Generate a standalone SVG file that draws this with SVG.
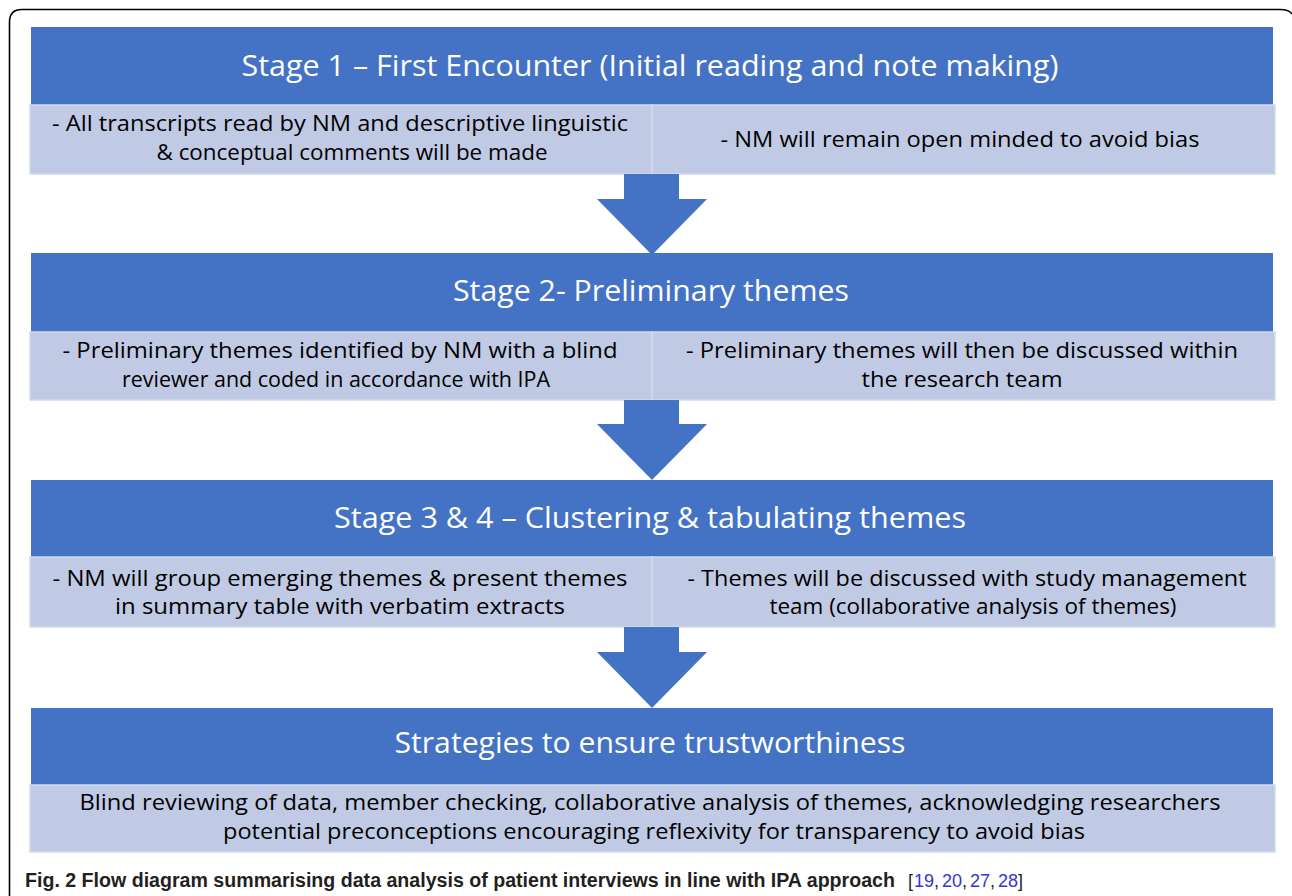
<svg xmlns="http://www.w3.org/2000/svg" width="1292" height="896" viewBox="0 0 1292 896">
<style>
.hdr{fill:#4472C4;}
.sub{fill:#C0CAE5;stroke:#D3DAEE;stroke-width:1.5;}
.arr{fill:#4472C4;}
.ht{font-family:"Open Sans","Liberation Sans",sans-serif;font-size:30px;fill:#FFFFFF;text-anchor:middle;}
.st{font-family:"Open Sans","Liberation Sans",sans-serif;font-size:22px;fill:#000000;text-anchor:middle;}
.cap{font-family:"Liberation Sans",Arial,sans-serif;font-size:19.6px;font-weight:bold;fill:#231F20;}
.ref{font-family:"Liberation Sans",Arial,sans-serif;font-size:18px;fill:#231F20;}
.num{fill:#3333DD;}
</style>
<rect width="1292" height="896" fill="#FFFFFF"/>
<path d="M9.5 896 V22 Q9.5 9.5 22 9.5 H1280 Q1289 9.5 1292 14" fill="none" stroke="#000000" stroke-width="1.6"/>

<g id="stage1">
<rect class="hdr" x="31" y="27" width="1242" height="78"/>
<text class="ht" x="650" y="76" textLength="817" lengthAdjust="spacingAndGlyphs">Stage 1 – First Encounter (Initial reading and note making)</text>
</g>
<g id="stage1-left">
<rect class="sub" x="30" y="105" width="622" height="69"/>
<text class="st" x="340" y="131" textLength="576" lengthAdjust="spacingAndGlyphs">- All transcripts read by NM and descriptive linguistic</text>
<text class="st" x="352" y="160" textLength="391" lengthAdjust="spacingAndGlyphs">&amp; conceptual comments will be made</text>
</g>
<g id="stage1-right">
<rect class="sub" x="652" y="105" width="623" height="69"/>
<text class="st" x="960" y="147" textLength="479" lengthAdjust="spacingAndGlyphs">- NM will remain open minded to avoid bias</text>
</g>

<g id="stage2">
<rect class="hdr" x="31" y="253" width="1242" height="79"/>
<text class="ht" x="651" y="301" textLength="396" lengthAdjust="spacingAndGlyphs">Stage 2- Preliminary themes</text>
</g>
<g id="stage2-left">
<rect class="sub" x="30" y="332" width="622" height="68"/>
<text class="st" x="340" y="358" textLength="555" lengthAdjust="spacingAndGlyphs">- Preliminary themes identified by NM with a blind</text>
<text class="st" x="336" y="387" textLength="428" lengthAdjust="spacingAndGlyphs">reviewer and coded in accordance with IPA</text>
</g>
<g id="stage2-right">
<rect class="sub" x="652" y="332" width="623" height="68"/>
<text class="st" x="962" y="358" textLength="552" lengthAdjust="spacingAndGlyphs">- Preliminary themes will then be discussed within</text>
<text class="st" x="962" y="387" textLength="201" lengthAdjust="spacingAndGlyphs">the research team</text>
</g>

<g id="stage3">
<rect class="hdr" x="31" y="480" width="1242" height="77"/>
<text class="ht" x="650" y="528" textLength="632" lengthAdjust="spacingAndGlyphs">Stage 3 &amp; 4 – Clustering &amp; tabulating themes</text>
</g>
<g id="stage3-left">
<rect class="sub" x="30" y="557" width="622" height="70"/>
<text class="st" x="340" y="586" textLength="575" lengthAdjust="spacingAndGlyphs">- NM will group emerging themes &amp; present themes</text>
<text class="st" x="340" y="614" textLength="450" lengthAdjust="spacingAndGlyphs">in summary table with verbatim extracts</text>
</g>
<g id="stage3-right">
<rect class="sub" x="652" y="557" width="623" height="70"/>
<text class="st" x="967" y="586" textLength="559" lengthAdjust="spacingAndGlyphs">- Themes will be discussed with study management</text>
<text class="st" x="973" y="614" textLength="407" lengthAdjust="spacingAndGlyphs">team (collaborative analysis of themes)</text>
</g>

<g id="strategies">
<rect class="hdr" x="31" y="708" width="1242" height="77"/>
<text class="ht" x="650" y="753" textLength="511" lengthAdjust="spacingAndGlyphs">Strategies to ensure trustworthiness</text>
</g>
<g id="strategies-body">
<rect class="sub" x="30" y="785" width="1245" height="67"/>
<text class="st" x="650" y="810" textLength="1141" lengthAdjust="spacingAndGlyphs">Blind reviewing of data, member checking, collaborative analysis of themes, acknowledging researchers</text>
<text class="st" x="654" y="839" textLength="862" lengthAdjust="spacingAndGlyphs">potential preconceptions encouraging reflexivity for transparency to avoid bias</text>
</g>

<g id="connectors">
<polygon class="arr" points="624,174 679,174 679,199 707,199 652,255 597,199 624,199"/>
<polygon class="arr" points="624,400 679,400 679,424 707,424 652,480 597,424 624,424"/>
<polygon class="arr" points="624,627 679,627 679,652 707,652 652,708 597,652 624,652"/>
</g>

<g id="caption">
<text class="cap" x="25" y="887">Fig. 2 Flow diagram summarising data analysis of patient interviews in line with IPA approach</text>
<text class="ref" x="908" y="887">[</text>
<text class="ref num" x="914" y="887">19</text>
<text class="ref" x="934" y="887">,</text>
<text class="ref num" x="942" y="887">20</text>
<text class="ref" x="962" y="887">,</text>
<text class="ref num" x="970" y="887">27</text>
<text class="ref" x="990" y="887">,</text>
<text class="ref num" x="998" y="887">28</text>
<text class="ref" x="1018" y="887">]</text>
</g>
</svg>
